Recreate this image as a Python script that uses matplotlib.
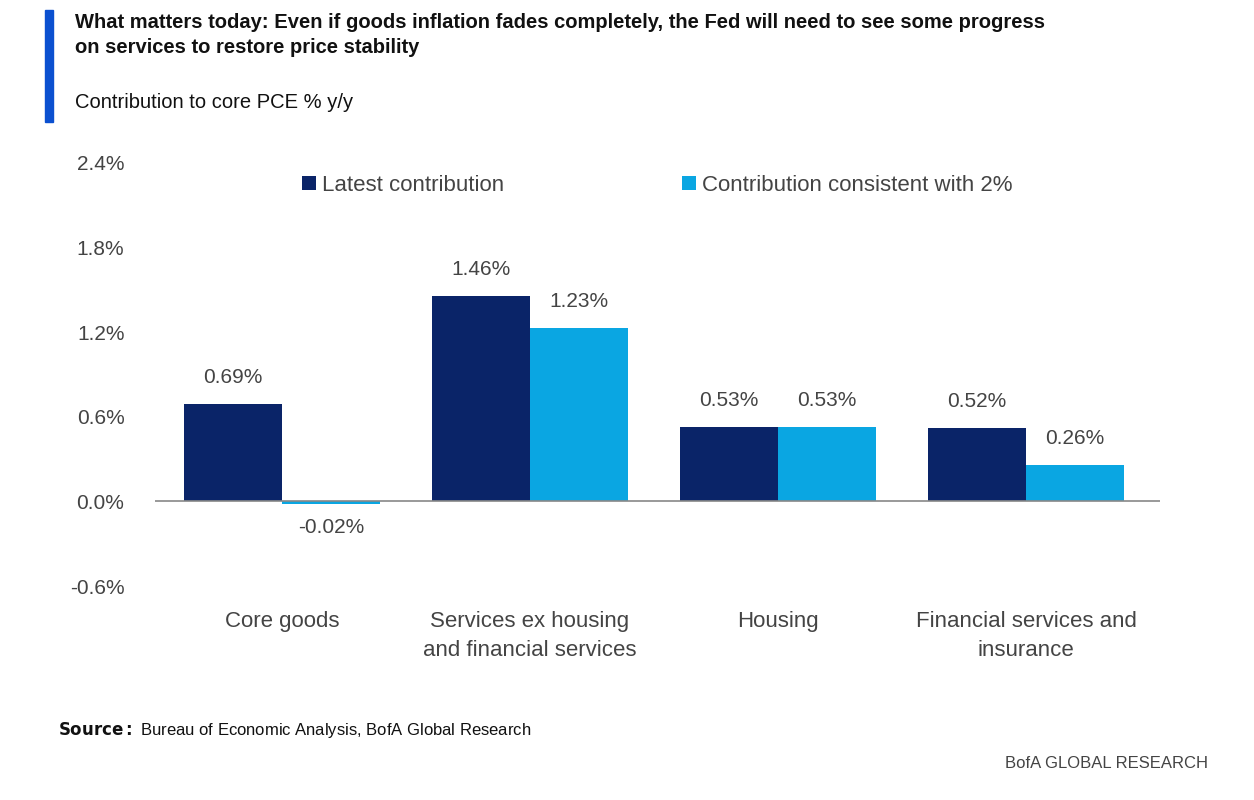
import matplotlib.pyplot as plt
import numpy as np
from matplotlib.patches import Rectangle

# Data
categories = ['Core goods', 'Services ex housing\nand financial services', 'Housing',
              'Financial services and\ninsurance']
latest = [0.69, 1.46, 0.53, 0.52]
consistent = [-0.02, 1.23, 0.53, 0.26]
y_ticks = [-0.6, 0.0, 0.6, 1.2, 1.8, 2.4]

dark = '#0a2468'
light = '#0aa6e2'
grey = '#444444'


def main():
    plt.rcParams['font.family'] = ['Liberation Sans', 'DejaVu Sans']
    fig = plt.figure(figsize=(12.54, 8), dpi=100)
    ax = fig.add_axes([155 / 1254, 1 - 586 / 800, (1160 - 155) / 1254, (586 - 163) / 800])

    x = np.arange(len(categories))
    w = 0.395
    ax.bar(x - w / 2, latest, w, color=dark, label='Latest contribution')
    ax.bar(x + w / 2, consistent, w, color=light, label='Contribution consistent with 2%')

    for xi, v in zip(x - w / 2, latest):
        ax.text(xi, v + 0.12, '{:.2f}%'.format(v), ha='center', va='bottom', fontsize=15, color=grey)
    for xi, v in zip(x + w / 2, consistent):
        if v < 0:
            ax.text(xi, v - 0.1, '{:.2f}%'.format(v), ha='center', va='top', fontsize=15, color=grey)
        else:
            ax.text(xi, v + 0.12, '{:.2f}%'.format(v), ha='center', va='bottom', fontsize=15, color=grey)

    ax.axhline(0, color='#888888', lw=1.2)
    ax.set_xlim(-0.512, 3.54)
    ax.set_ylim(-0.6, 2.4)
    ax.set_yticks(y_ticks)
    ax.set_yticklabels(['{:.1f}%'.format(t) for t in y_ticks], fontsize=15, color=grey)
    ax.tick_params(axis='y', length=0, pad=22)
    ax.set_xticks([])
    for s in ax.spines.values():
        s.set_visible(False)

    for xi, c in zip(x, categories):
        ax.text(xi, -0.78, c, ha='center', va='top', fontsize=16, color=grey, linespacing=1.5)

    ax.legend(loc='upper center', bbox_to_anchor=(0.5, 1.02), ncol=2, frameon=False, fontsize=16,
              handlelength=0.6, handleheight=0.6, handletextpad=0.3, columnspacing=8,
              labelcolor=grey)

    # Title block
    fig.patches.append(Rectangle((45 / 1254, 1 - 122 / 800), 8 / 1254, 112 / 800,
                                 transform=fig.transFigure, color='#0b50d0'))
    fig.text(75 / 1254, 1 - 35 / 800,
             'What matters today: Even if goods inflation fades completely, the Fed will need to see some progress\n'
             'on services to restore price stability', fontsize=14.5, fontweight='bold', va='center',
             linespacing=1.45, color='#111111')
    fig.text(75 / 1254, 1 - 103 / 800, 'Contribution to core PCE % y/y', fontsize=14.5, va='center',
             color='#111111')
    fig.text(58 / 1254, 1 - 730 / 800, r'$\bf{Source:}$ Bureau of Economic Analysis, BofA Global Research',
             fontsize=12, va='center', color='#111111')
    fig.text(1208 / 1254, 1 - 764 / 800, 'BofA GLOBAL RESEARCH', fontsize=12, ha='right', va='center',
             color='#444444')

    plt.savefig('out.png')


if __name__ == '__main__':
    main()
